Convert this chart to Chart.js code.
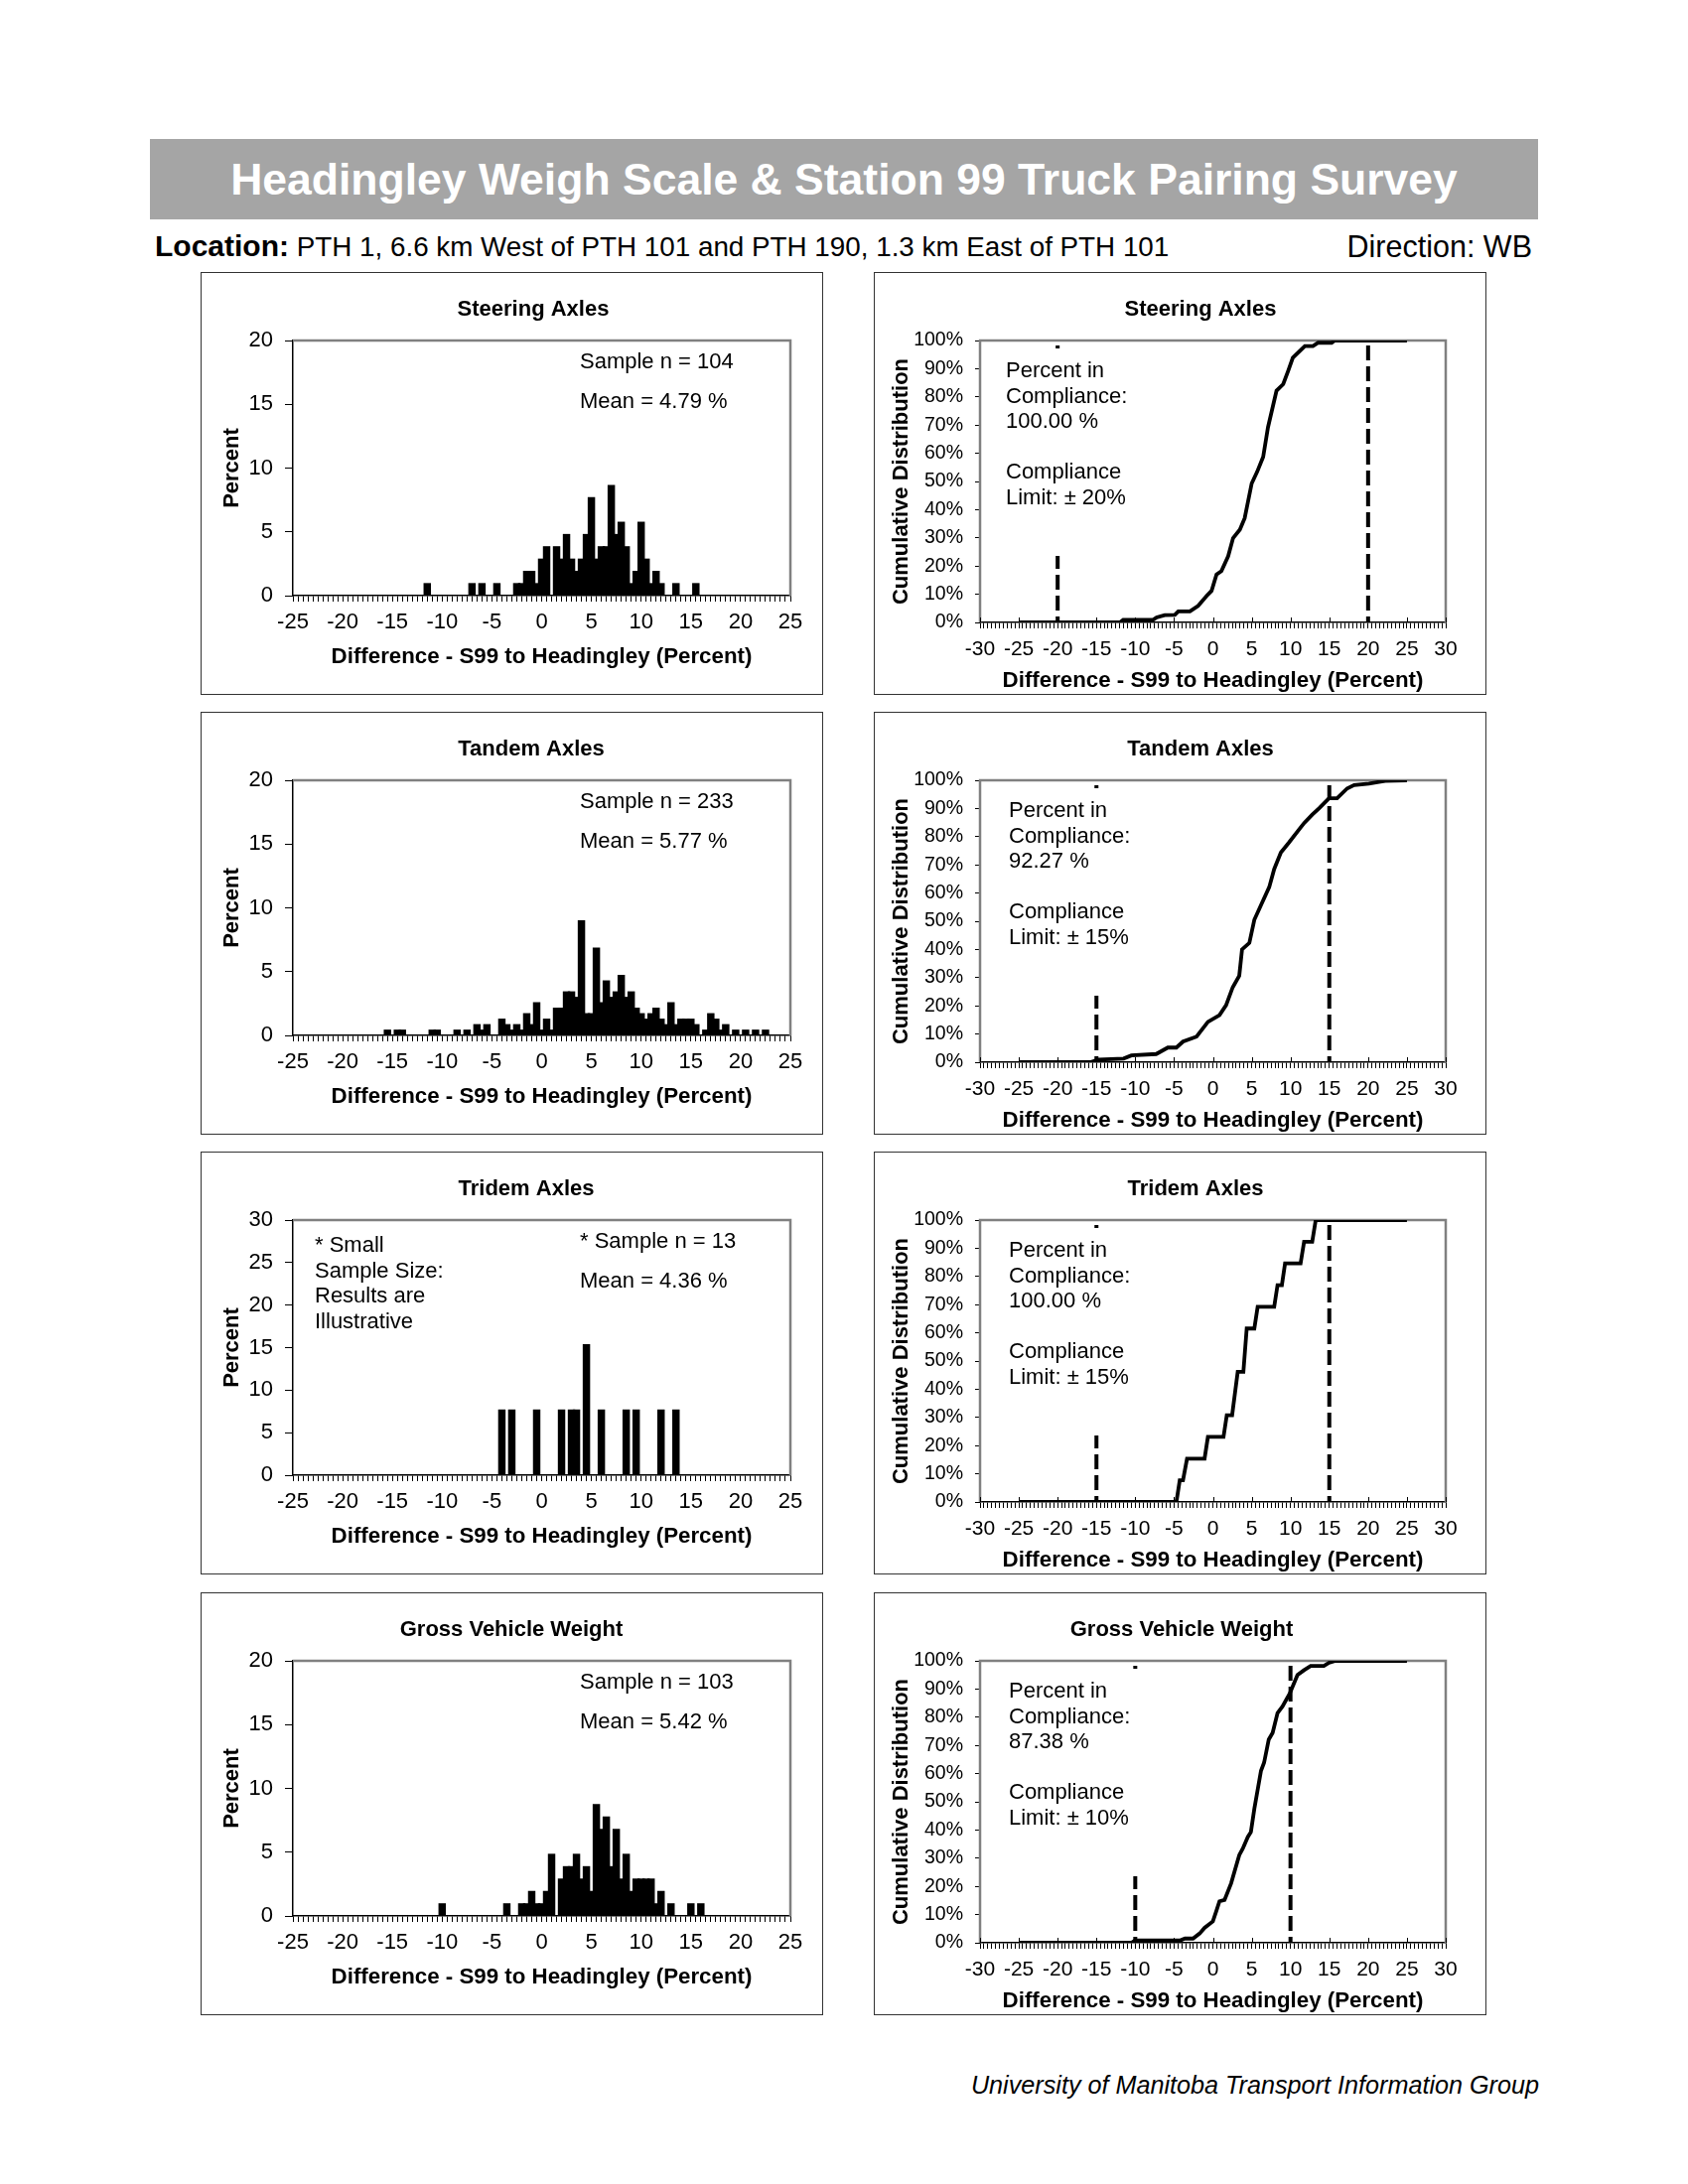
<!DOCTYPE html>
<html><head><meta charset="utf-8">
<script src="https://cdn.jsdelivr.net/npm/chart.js@4.4.1/dist/chart.umd.min.js"></script>
<style>
html,body{margin:0;padding:0;background:#fff;}
body{width:1700px;height:2200px;position:relative;font-family:'Liberation Sans',Arial,sans-serif;overflow:hidden;color:#000;}
.banner{position:absolute;left:151px;top:140px;width:1398px;height:81px;background:#a5a5a5;color:#fff;font-weight:bold;font-size:44.5px;line-height:81px;text-align:center;white-space:nowrap;}
.loc{position:absolute;left:156px;top:230px;height:36px;line-height:36px;white-space:nowrap;}
.loc b{font-size:30px;}
.loc span{font-size:27.8px;}
.dir{position:absolute;right:157px;top:230px;line-height:36px;font-size:30.5px;white-space:nowrap;}
canvas{position:absolute;}
.frame{position:absolute;border:1px solid #333;box-sizing:border-box;pointer-events:none;}
.foot{position:absolute;right:150px;top:2085px;font-size:25.2px;font-style:italic;line-height:30px;white-space:nowrap;}
</style></head><body>
<div class="banner">Headingley Weigh Scale &amp; Station 99 Truck Pairing Survey</div>
<div class="loc"><b>Location:</b><span> PTH 1, 6.6 km West of PTH 101 and PTH 190, 1.3 km East of PTH 101</span></div>
<div class="dir">Direction: WB</div>
<div id="panels"></div>
<div class="foot">University of Manitoba Transport Information Group</div>
<script>
// ---------------- DATA ----------------
const panelTitles = ['Steering Axles', 'Tandem Axles', 'Tridem Axles', 'Gross Vehicle Weight'];
const sampleTexts = ['Sample n = 104', 'Sample n = 233', '* Sample n = 13', 'Sample n = 103'];
const meanTexts = ['Mean = 4.79 %', 'Mean = 5.77 %', 'Mean = 4.36 %', 'Mean = 5.42 %'];
const complianceTexts = ['100.00 %', '92.27 %', '100.00 %', '87.38 %'];
const limits = [20, 15, 15, 10];
const histYMax = [20, 20, 30, 20];
const smallSampleNote = ['* Small', 'Sample Size:', 'Results are', 'Illustrative'];
const histXLabels = [-25, -20, -15, -10, -5, 0, 5, 10, 15, 20, 25];
const cdfXLabels = [-30, -25, -20, -15, -10, -5, 0, 5, 10, 15, 20, 25, 30];
const xAxisTitle = 'Difference - S99 to Headingley (Percent)';

// histogram bins (percent difference) and percent of sample
const steerBins = [-11.5, -7, -6, -4.5, -2.5, -2, -1.5, -1, -0.5, 0, 0.5, 1.5, 2, 2.5, 3, 3.5, 4, 4.5, 5, 5.5, 6, 6.5, 7, 7.5, 8, 8.5, 9, 9.5, 10, 10.5, 11, 11.5, 12, 13.5, 15.5];
const steerPct = [0.96, 0.96, 0.96, 0.96, 0.96, 0.96, 1.92, 1.92, 0.96, 2.88, 3.85, 3.85, 2.88, 4.81, 2.88, 1.92, 2.88, 4.81, 7.69, 2.88, 3.85, 3.85, 8.65, 4.81, 5.77, 3.85, 0.96, 1.92, 5.77, 2.88, 0.96, 1.92, 0.96, 0.96, 0.96];

const tandemBins = [-15.5, -14.5, -14, -11, -10.5, -8.5, -7.5, -6.5, -6, -5.5, -4, -3.5, -3, -2.5, -2, -1.5, -1, -0.5, 0, 0.5, 1, 1.5, 2, 2.5, 3, 3.5, 4, 4.5, 5, 5.5, 6, 6.5, 7, 7.5, 8, 8.5, 9, 9.5, 10, 10.5, 11, 11.5, 12, 12.5, 13, 13.5, 14, 14.5, 15, 15.5, 16.5, 17, 17.5, 18, 18.5, 19.5, 20.5, 21.5, 22.5];
const tandemPct = [0.43, 0.43, 0.43, 0.43, 0.43, 0.43, 0.43, 0.86, 0.43, 0.86, 1.29, 0.86, 0.43, 0.86, 0.43, 1.72, 0.86, 2.58, 0.43, 1.29, 0.43, 2.15, 2.15, 3.43, 3.43, 3.00, 9.01, 1.72, 1.72, 6.87, 2.58, 4.29, 3.00, 3.43, 4.72, 3.00, 3.43, 2.15, 1.72, 1.29, 1.72, 2.15, 1.29, 0.86, 2.58, 0.86, 1.29, 1.29, 1.29, 0.86, 0.43, 1.72, 1.29, 0.43, 0.86, 0.43, 0.43, 0.43, 0.43];

const tridemBins = [-4, -3, -0.5, 2, 3, 3.5, 4.5, 6, 8.5, 9.5, 12, 13.5];
const tridemPct = [7.69, 7.69, 7.69, 7.69, 7.69, 7.69, 15.38, 7.69, 7.69, 7.69, 7.69, 7.69];

const gvwBins = [-10, -3.5, -2, -1.5, -1, -0.5, 0, 0.5, 1, 2, 2.5, 3, 3.5, 4, 4.5, 5, 5.5, 6, 6.5, 7, 7.5, 8, 8.5, 9, 9.5, 10, 10.5, 11, 11.5, 12, 13, 15, 16];
const gvwPct = [0.97, 0.97, 0.97, 0.97, 1.94, 0.97, 0.97, 1.94, 4.85, 2.91, 3.88, 3.88, 4.85, 2.91, 3.88, 1.94, 8.74, 6.80, 7.77, 3.88, 6.80, 2.91, 4.85, 1.94, 2.91, 2.91, 2.91, 2.91, 0.97, 1.94, 0.97, 0.97, 0.97];

// cumulative distributions (x = percent difference, y = cumulative %)
const steerCdfX = [-25, -11.97, -11.55, -7.7, -7.25, -6.2, -4.9, -4.46, -2.96, -1.9, -0.8, -0.17, 0.47, 1.1, 1.97, 2.6, 3.48, 4.1, 5.0, 5.7, 6.48, 7.1, 8.2, 9.06, 9.7, 10.3, 11.85, 12.9, 13.56, 15.3, 15.7, 25];
const steerCdfY = [0, 0, 0.94, 0.94, 1.8, 2.6, 2.7, 3.9, 3.9, 5.9, 9.4, 11.2, 17.0, 18.2, 23.5, 29.9, 32.9, 37.0, 49.3, 53.4, 58.7, 69.2, 82.2, 84.5, 89.2, 93.9, 98.0, 98.0, 99.2, 99.2, 100, 100];

const tandemCdfX = [-25, -15.8, -14.7, -11.5, -10.5, -7.3, -5.8, -4.7, -3.85, -2.1, -0.64, 0.85, 1.7, 2.56, 3.4, 3.76, 4.7, 5.34, 6.2, 7.26, 7.9, 8.76, 9.8, 11.1, 11.75, 12.8, 13.7, 14.96, 16.0, 17.3, 18.2, 20.1, 21.4, 22.2, 25];
const tandemCdfY = [0, 0, 0.9, 1.3, 2.4, 2.9, 5.2, 5.2, 7.3, 9.1, 14.3, 16.7, 20.2, 26.6, 30.7, 40, 42.3, 50.5, 55.7, 62.1, 68.5, 74.4, 77.9, 82.5, 84.8, 87.8, 90.1, 93.6, 93.6, 97.1, 98.3, 98.8, 99.4, 99.8, 100];

const tridemCdfX = [-25, -4.7, -4.27, -3.85, -3.33, -1.07, -0.64, 1.37, 1.79, 2.48, 3.2, 3.93, 4.36, 5.34, 5.77, 7.9, 8.33, 8.89, 9.3, 11.3, 11.75, 12.8, 13.25, 25];
const tridemCdfY = [0, 0, 7.69, 7.69, 15.38, 15.38, 23.08, 23.08, 30.77, 30.77, 46.15, 46.15, 61.54, 61.54, 69.23, 69.23, 76.92, 76.92, 84.62, 84.62, 92.31, 92.31, 100, 100];

const gvwCdfX = [-25, -10.5, -10.04, -4.27, -3.6, -2.56, -1.7, -1.07, 0, 0.43, 0.85, 1.5, 2.35, 3.4, 3.85, 4.5, 4.9, 5.34, 6.2, 6.6, 7.2, 7.7, 8.33, 8.97, 9.9, 10.9, 11.75, 12.6, 14.3, 14.96, 15.8, 25];
const gvwCdfY = [0, 0, 0.8, 0.8, 1.5, 1.5, 3.3, 5.3, 7.6, 11.1, 14.7, 15.2, 21.1, 31.1, 33.4, 37.5, 39.3, 47.5, 61, 63.9, 72.1, 74.5, 81.5, 83.8, 88.4, 95, 96.7, 98.2, 98.2, 99.3, 100, 100];

const histData = [[steerBins, steerPct], [tandemBins, tandemPct], [tridemBins, tridemPct], [gvwBins, gvwPct]];
const cdfData = [[steerCdfX, steerCdfY], [tandemCdfX, tandemCdfY], [tridemCdfX, tridemCdfY], [gvwCdfX, gvwCdfY]];

// ---------------- LAYOUT ----------------
const FONT = "'Liberation Sans', Arial, sans-serif";
Chart.defaults.font.family = FONT;
Chart.defaults.color = '#000';
const rowTops = [274, 717, 1160, 1604];
const LEFT = {x: 202, w: 627, h: 426, area: {l: 93, t: 69, r: 594, b: 326}};
const RIGHT = {x: 880, w: 617, h: 426, area: {l: 107, t: 69, r: 576, b: 353}};
const histTitleX = [335, 333, 328, 313];
const cdfTitleX = [329, 329, 324, 310];
const cdfTextX = [133, 136, 136, 136];

const decoPlugin = {
  id: 'deco',
  beforeDatasetsDraw(chart, args, o) {
    const {ctx, chartArea: a} = chart;
    ctx.save();
    ctx.strokeStyle = '#808080';
    ctx.lineWidth = 2.5;
    ctx.beginPath();
    if (o.grayLeft) { ctx.moveTo(a.left, a.bottom); ctx.lineTo(a.left, a.top); } else { ctx.moveTo(a.left, a.top); }
    ctx.lineTo(a.right, a.top);
    ctx.lineTo(a.right, a.bottom);
    ctx.stroke();
    if (o.innerTicks) {
      const xs = chart.scales.x;
      ctx.strokeStyle = '#000'; ctx.lineWidth = 1;
      o.innerTicks.forEach(v => {
        const px = Math.round(xs.getPixelForValue(v)) + 0.5;
        ctx.beginPath(); ctx.moveTo(px, a.bottom); ctx.lineTo(px, a.bottom - 5); ctx.stroke();
      });
    }
    ctx.restore();
  },
  afterDatasetsDraw(chart, args, o) {
    const ctx = chart.ctx;
    if (o.box) { ctx.save(); ctx.fillStyle = '#fff'; ctx.fillRect(o.box.x, o.box.y, o.box.w, o.box.h); ctx.restore(); }
    (o.texts || []).forEach(t => {
      ctx.save();
      ctx.font = t.font; ctx.fillStyle = '#000';
      ctx.textAlign = t.align || 'left'; ctx.textBaseline = 'middle';
      ctx.fillText(t.text, t.x, t.y);
      ctx.restore();
    });
  }
};

function addPanel(x, y, w, h) {
  const c = document.createElement('canvas');
  c.width = w; c.height = h;
  c.style.left = x + 'px'; c.style.top = y + 'px';
  c.style.width = w + 'px'; c.style.height = h + 'px';
  document.getElementById('panels').appendChild(c);
  const f = document.createElement('div');
  f.className = 'frame';
  f.style.left = x + 'px'; f.style.top = y + 'px'; f.style.width = w + 'px'; f.style.height = h + 'px';
  document.getElementById('panels').appendChild(f);
  return c;
}

function makeHist(i) {
  const P = LEFT.area, W = LEFT.w, H = LEFT.h;
  const cv = addPanel(LEFT.x, rowTops[i], W, H);
  const [bins, pct] = histData[i];
  const texts = [
    {text: panelTitles[i], x: histTitleX[i], y: 38, align: 'center', font: 'bold 22px ' + FONT},
    {text: sampleTexts[i], x: 382, y: 91, font: '22px ' + FONT},
    {text: meanTexts[i], x: 382, y: 130.5, font: '22px ' + FONT}
  ];
  if (i === 2) smallSampleNote.forEach((s, k) => texts.push({text: s, x: 115, y: 95 + k * 25.6, font: '22px ' + FONT}));
  new Chart(cv, {
    type: 'bar',
    data: {datasets: [{data: bins.map((b, k) => ({x: b, y: pct[k]})), backgroundColor: '#000', borderWidth: 0, barThickness: 6.8}]},
    options: {
      responsive: false, animation: false, devicePixelRatio: 1,
      layout: {padding: {left: 0, top: P.t, right: W - P.r, bottom: 0}},
      plugins: {legend: {display: false}, tooltip: {enabled: false}, title: {display: false}, deco: {texts}},
      scales: {
        x: {
          type: 'linear', min: -25, max: 25, offset: false,
          grid: {offset: false, drawOnChartArea: false, drawTicks: true, tickLength: 6, color: '#000', lineWidth: 1},
          border: {display: true, color: '#000', width: 1.5},
          ticks: {stepSize: 0.5, autoSkip: false, maxRotation: 0, minRotation: 0, padding: 8, color: '#000', font: {size: 22},
            callback: v => histXLabels.includes(v) ? String(v) : ''},
          title: {display: true, text: xAxisTitle, color: '#000', font: {size: 22.3, weight: 'bold'}, padding: {top: 0, bottom: 25}},
          afterFit: s => { s.height = H - P.b; }
        },
        y: {
          min: 0, max: histYMax[i],
          grid: {drawOnChartArea: false, drawTicks: true, tickLength: 8, color: '#000'},
          border: {display: true, color: '#000', width: 1.5},
          ticks: {stepSize: 5, padding: 12, color: '#000', font: {size: 22}},
          title: {display: true, text: 'Percent', color: '#000', font: {size: 22, weight: 'bold'}, padding: {top: 19, bottom: 0}},
          afterFit: s => { s.width = P.l; }
        }
      }
    },
    plugins: [decoPlugin]
  });
}

function makeCdf(i) {
  const P = RIGHT.area, W = RIGHT.w, H = RIGHT.h;
  const cv = addPanel(RIGHT.x, rowTops[i], W, H);
  const [xs, ys] = cdfData[i];
  const lim = limits[i];
  const lines = ['Percent in', 'Compliance:', complianceTexts[i], '', 'Compliance', 'Limit: \u00b1 ' + lim + '%'];
  const texts = [{text: panelTitles[i], x: cdfTitleX[i], y: 38, align: 'center', font: 'bold 22px ' + FONT}];
  lines.forEach((s, k) => { if (s) texts.push({text: s, x: cdfTextX[i], y: 100 + k * 25.6, font: '22px ' + FONT}); });
  const dash = {borderColor: '#000', borderWidth: 4, borderDash: [15, 6], borderDashOffset: 16, pointRadius: 0, tension: 0, fill: false};
  new Chart(cv, {
    type: 'line',
    data: {datasets: [
      {data: xs.map((x, k) => ({x, y: ys[k]})), borderColor: '#000', borderWidth: 3.8, pointRadius: 0, tension: 0, fill: false},
      Object.assign({data: [{x: -lim, y: 100}, {x: -lim, y: 0}]}, dash),
      Object.assign({data: [{x: lim, y: 100}, {x: lim, y: 0}]}, dash)
    ]},
    options: {
      responsive: false, animation: false, devicePixelRatio: 1,
      layout: {padding: {left: 0, top: P.t, right: W - P.r, bottom: 0}},
      plugins: {legend: {display: false}, tooltip: {enabled: false}, title: {display: false},
        deco: {grayLeft: true, innerTicks: cdfXLabels, box: {x: 113, y: 77, w: 162, h: 209}, texts}},
      scales: {
        x: {
          type: 'linear', min: -30, max: 30, offset: false,
          grid: {offset: false, drawOnChartArea: false, drawTicks: true, tickLength: 6, color: '#000', lineWidth: 1},
          border: {display: true, color: '#000', width: 1.5},
          ticks: {stepSize: 0.5, autoSkip: false, maxRotation: 0, minRotation: 0, padding: 9, color: '#000', font: {size: 21},
            callback: v => cdfXLabels.includes(v) ? String(v) : ''},
          title: {display: true, text: xAxisTitle, color: '#000', font: {size: 22.3, weight: 'bold'}, padding: {top: 0, bottom: 1}},
          afterFit: s => { s.height = H - P.b; }
        },
        y: {
          min: 0, max: 100,
          grid: {drawOnChartArea: false, drawTicks: true, tickLength: 5, color: '#000'},
          border: {display: false},
          ticks: {stepSize: 10, padding: 12, color: '#000', font: {size: 19.5}, callback: v => v + '%'},
          title: {display: true, text: 'Cumulative Distribution', color: '#000', font: {size: 22, weight: 'bold'}, padding: {top: 15, bottom: 0}},
          afterFit: s => { s.width = P.l; }
        }
      }
    },
    plugins: [decoPlugin]
  });
}

for (let i = 0; i < 4; i++) { makeHist(i); makeCdf(i); }
</script>
</body></html>
